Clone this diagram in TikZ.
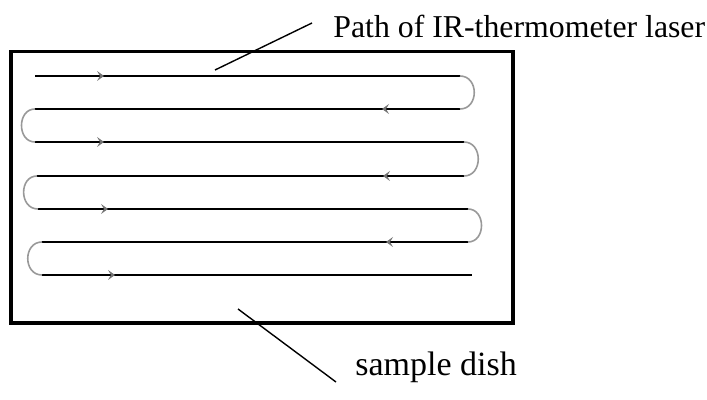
\documentclass[tikz,border=0pt]{standalone}
\usepackage{fontspec}
\setmainfont{Liberation Serif}
\begin{document}
\begin{tikzpicture}[x=0.5pt,y=-0.5pt,
  dish/.style={line width=1.6pt},
  track/.style={line width=1.2pt},
  turn/.style={draw=black!40, line width=0.8pt},
  dirr/.style={fill=black!55, draw=none},
  lbl/.style={font=\fontsize{15.9}{19}\selectfont, inner sep=0pt, anchor=base west},
  ptr/.style={line width=0.7pt},
  rtip/.pic={\fill[dirr] (0,0) -- (-7,-5) -- (-4,0) -- (-7,5) -- cycle;},
  ltip/.pic={\fill[dirr] (0,0) -- (7,-5) -- (4,0) -- (7,5) -- cycle;}]
\useasboundingbox (0,0) rectangle (707,400);
% dish
\draw[dish] (11,51.5) rectangle (513,323);
% scan tracks
\draw[track] (35,76) -- (460,76);
\draw[track] (35,109) -- (460,109);
\draw[track] (35,142) -- (464,142);
\draw[track] (37,176) -- (464,176);
\draw[track] (38,209) -- (468,209);
\draw[track] (42,242) -- (468,242);
\draw[track] (42,275) -- (472,275);
% turns
\draw[turn] (460,76) .. controls (479,76) and (479,109) .. (460,109);
\draw[turn] (35,109) .. controls (17,109) and (17,142) .. (35,142);
\draw[turn] (464,142) .. controls (483,142) and (483,176) .. (464,176);
\draw[turn] (37,176) .. controls (19,176) and (19,209) .. (38,209);
\draw[turn] (468,209) .. controls (486,209) and (486,242) .. (468,242);
\draw[turn] (42,242) .. controls (23,242) and (23,275) .. (42,275);
% direction arrows
\pic at (104,76) {rtip};
\pic at (382,109) {ltip};
\pic at (104,142) {rtip};
\pic at (383,176) {ltip};
\pic at (108,209) {rtip};
\pic at (386,242) {ltip};
\pic at (115,275) {rtip};
% labels
\node[lbl] (pathlbl) at (333,38) {Path of IR-thermometer laser};
\node[lbl, font=\fontsize{17}{20}\selectfont] (dishlbl) at (355,376) {sample dish};
\coordinate (p1) at (215,70);
\coordinate (p2) at (312,23);
\coordinate (d1) at (238,309);
\coordinate (d2) at (336,382);
\draw[ptr] (p1) -- (p2);
\draw[ptr] (d1) -- (d2);
\end{tikzpicture}
\end{document}
